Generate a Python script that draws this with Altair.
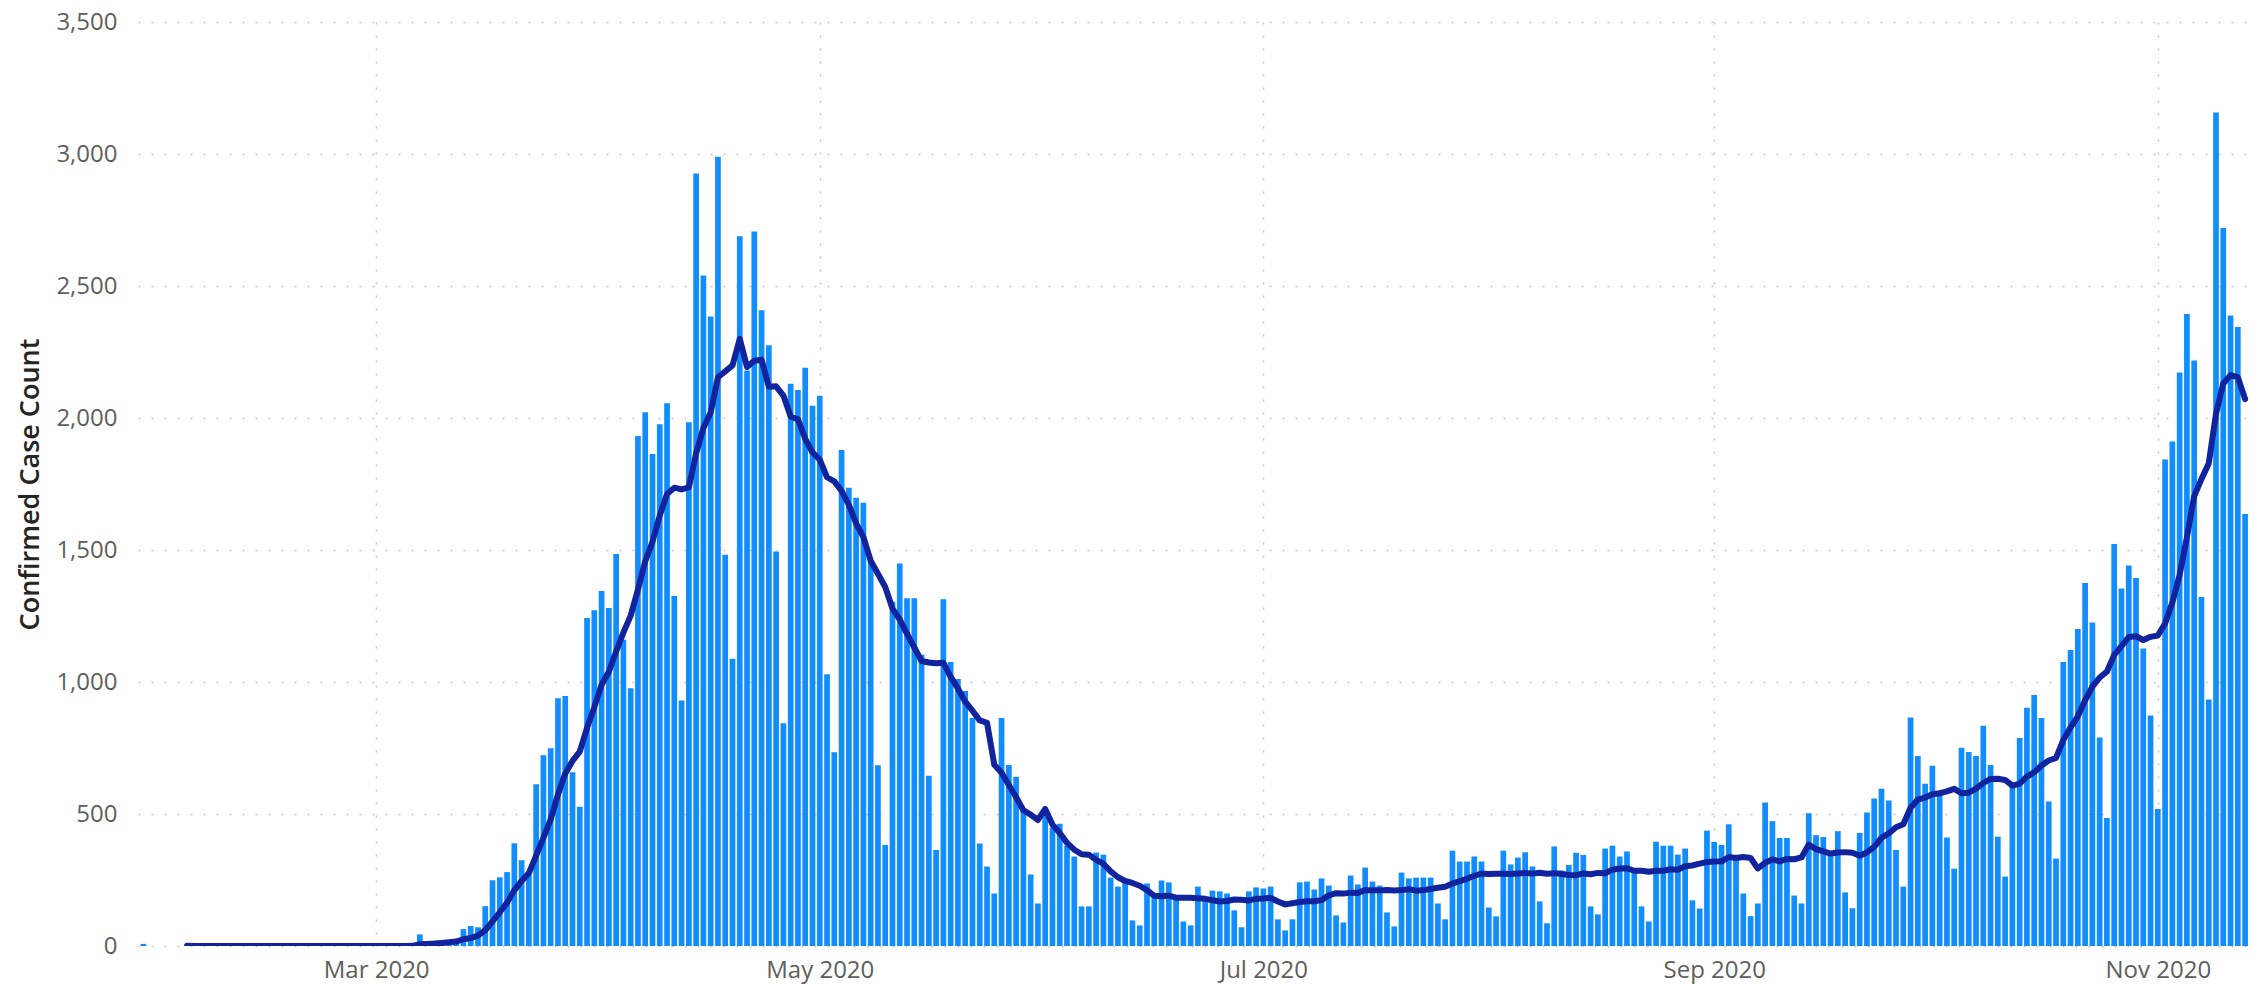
import altair as alt
import pandas as pd

start_date = "2020-01-29"

jan = [8, 0, 0]
feb = [0, 0, 0, 0, 0, 0, 0, 0, 0, 0, 0, 0, 0, 0, 0, 0, 0, 0, 0, 0,
       0, 0, 0, 0, 0, 0, 0, 0, 0]
mar = [0, 0, 0, 0, 2, 3, 44, 6, 10, 15, 18, 22, 64, 76, 71, 151, 249, 260, 280, 389,
       325, 280, 613, 723, 749, 938, 947, 658, 527, 1242, 1272]
apr = [1345, 1280, 1485, 1160, 976, 1932, 2022, 1864, 1976, 2056, 1326, 930, 1984, 2926, 2540,
       2384, 2990, 1482, 1088, 2688, 2180, 2706, 2408, 2276, 1494, 844, 2130, 2106, 2190, 2046]
may = [2084, 1029, 734, 1879, 1736, 1698, 1679, 1460, 685, 383, 1304, 1449, 1317, 1317, 1103,
       645, 364, 1313, 1076, 1011, 966, 864, 388, 301, 199, 864, 686, 641, 520, 271, 161]
jun = [492, 448, 463, 380, 339, 150, 150, 354, 346, 259, 225, 240, 97, 78, 237,
       195, 248, 241, 185, 93, 78, 225, 180, 210, 207, 199, 135, 71, 207, 222]
jul = [218, 225, 101, 59, 101, 241, 244, 214, 256, 229, 116, 89, 267, 233, 297,
       244, 229, 127, 74, 278, 256, 259, 259, 259, 161, 101, 361, 320, 320, 339, 320]
aug = [146, 112, 361, 309, 335, 355, 301, 169, 86, 377, 286, 307, 353, 345, 150,
       120, 369, 380, 339, 358, 280, 150, 93, 395, 380, 380, 346, 369, 173, 142, 437]
sep = [394, 383, 461, 345, 199, 113, 161, 544, 473, 409, 409, 191, 161, 503, 420,
       413, 354, 435, 203, 143, 428, 506, 559, 596, 551, 364, 225, 866, 720, 615]
octo = [683, 578, 411, 293, 751, 735, 720, 834, 686, 414, 263, 603, 788, 902, 951,
        864, 547, 331, 1076, 1121, 1201, 1375, 1225, 790, 485, 1523, 1354, 1441, 1394, 1127, 873]
nov = [519, 1843, 1911, 2172, 2394, 2218, 1322, 934, 3157, 2720, 2388, 2345, 1636]

cases = jan + feb + mar + apr + may + jun + jul + aug + sep + octo + nov
dates = pd.date_range(start_date, periods=len(cases), freq="D").strftime("%Y-%m-%d")
df = pd.DataFrame({"date": list(dates), "cases": cases})

y_ticks = [0, 500, 1000, 1500, 2000, 2500, 3000, 3500]
x_tick_months = [3, 5, 7, 9, 11]

BAR_COLOR = "#118DFF"
LINE_COLOR = "#12239E"
GRID_COLOR = "#C8C6C4"
LABEL_COLOR = "#605E5C"
FONT = "Open Sans"

x_scale = alt.Scale(
    type="utc",
    domain=[
        alt.DateTime(year=2020, month=1, date=28, hours=22, minutes=30, utc=True),
        alt.DateTime(year=2020, month=11, date=12, hours=20, minutes=24, utc=True),
    ],
)
x_axis = alt.Axis(
    values=[alt.DateTime(year=2020, month=m, date=1, utc=True) for m in x_tick_months],
    labelExpr="utcFormat(datum.value, '%b %Y')",
    title=None,
    domain=False,
    ticks=False,
    grid=True,
    gridDash=[2, 11],
    gridColor=GRID_COLOR,
    gridWidth=1.5,
    labelFont=FONT,
    labelFontSize=24,
    labelColor=LABEL_COLOR,
    labelPadding=12,
)
y_scale = alt.Scale(domain=[0, 3500], nice=False)
y_axis = alt.Axis(
    values=y_ticks,
    labelExpr="format(datum.value, ',.0f')",
    title="Confirmed Case Count",
    titleFont=FONT,
    titleFontSize=27,
    titleFontWeight=600,
    titleColor="#252423",
    titlePadding=11,
    domain=False,
    ticks=False,
    grid=True,
    gridDash=[2, 11],
    gridColor=GRID_COLOR,
    gridWidth=1.5,
    labelFont=FONT,
    labelFontSize=24,
    labelColor=LABEL_COLOR,
    labelPadding=21,
)

base = alt.Chart(df)

bars = base.mark_bar(color=BAR_COLOR, size=5.7, clip=True).encode(
    x=alt.X("date:T", scale=x_scale, axis=x_axis),
    y=alt.Y("cases:Q", scale=y_scale, axis=y_axis),
)

line = base.transform_window(
    window=[
        alt.WindowFieldDef(op="mean", field="cases", **{"as": "avg"}),
        alt.WindowFieldDef(op="count", field="cases", **{"as": "cnt"}),
    ],
    frame=[-6, 0],
    sort=[alt.SortField("date", order="ascending")],
).transform_filter("datum.cnt == 7").mark_line(
    color=LINE_COLOR, strokeWidth=6, strokeJoin="round", strokeCap="round", clip=True
).encode(
    x=alt.X("date:T", scale=x_scale, axis=x_axis),
    y=alt.Y("avg:Q", scale=y_scale, axis=y_axis),
)

chart = alt.layer(bars, line).properties(
    width=2111,
    height=924,
    padding={"left": 130, "top": 14, "right": 0, "bottom": 40},
    autosize=alt.AutoSizeParams(type="none"),
).configure_view(stroke=None)

chart.save("out.html", embed_options={"renderer": "svg", "actions": False})
